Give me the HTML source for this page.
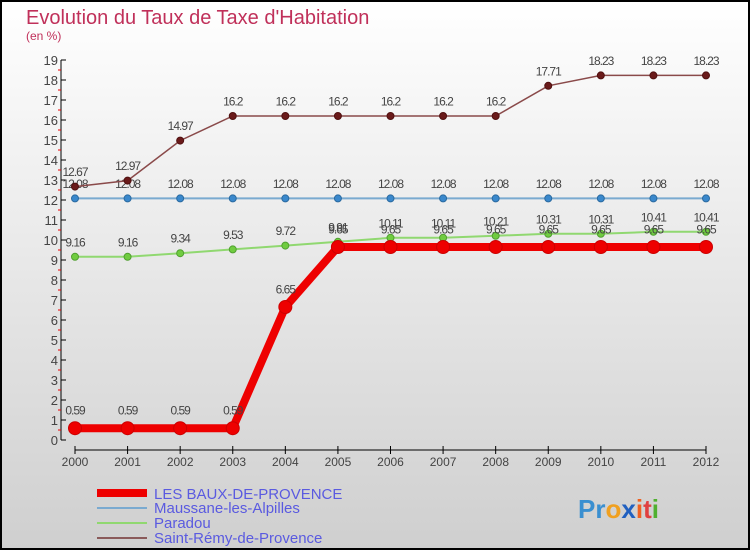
<!DOCTYPE html>
<html><head><meta charset="utf-8"><style>
body{margin:0}
#c{width:750px;height:550px;position:relative;overflow:hidden}
text{font-family:"Liberation Sans",sans-serif}
</style></head><body>
<div id="c">
<svg id="s" width="750" height="550" xmlns="http://www.w3.org/2000/svg">
<defs><linearGradient id="bg" x1="0" y1="0" x2="0" y2="1"><stop offset="0" stop-color="#ffffff"/><stop offset="1" stop-color="#cfcfcf"/></linearGradient></defs>
<rect x="1" y="1" width="748" height="548" fill="url(#bg)" stroke="#000" stroke-width="2"/>
<text x="26" y="24" font-size="20" fill="#c0305a">Evolution du Taux de Taxe d'Habitation</text>
<text x="26" y="40" font-size="12" fill="#c0305a">(en %)</text>
<g id="axes"></g><g id="series"></g>
<g>
<rect x="97" y="489" width="50" height="8" fill="#e00"/>
<text x="154" y="499" font-size="15" fill="#5a5ae0">LES BAUX-DE-PROVENCE</text>
<rect x="97" y="507" width="50" height="2" fill="#7aaad0"/>
<text x="154" y="513" font-size="15" fill="#5a5ae0">Maussane-les-Alpilles</text>
<rect x="97" y="522" width="50" height="2" fill="#90d870"/>
<text x="154" y="528" font-size="15" fill="#5a5ae0">Paradou</text>
<rect x="97" y="537" width="50" height="2" fill="#8a5a5a"/>
<text x="154" y="543" font-size="15" fill="#5a5ae0">Saint-Rémy-de-Provence</text>
</g>
<text x="578" y="518" font-size="26" font-weight="bold"><tspan fill="#3a8fd0">Pr</tspan><tspan fill="#f0a020">o</tspan><tspan fill="#2060c0">x</tspan><tspan fill="#f06020">i</tspan><tspan fill="#e04040">t</tspan><tspan fill="#50b030">i</tspan></text>
</svg></div>
<script>
const years=[2000,2001,2002,2003,2004,2005,2006,2007,2008,2009,2010,2011,2012];
const yTicks=[0,1,2,3,4,5,6,7,8,9,10,11,12,13,14,15,16,17,18,19];
const lesBaux=[0.59,0.59,0.59,0.59,6.65,9.65,9.65,9.65,9.65,9.65,9.65,9.65,9.65];
const maussane=[12.08,12.08,12.08,12.08,12.08,12.08,12.08,12.08,12.08,12.08,12.08,12.08,12.08];
const paradou=[9.16,9.16,9.34,9.53,9.72,9.91,10.11,10.11,10.21,10.31,10.31,10.41,10.41];
const saintRemy=[12.67,12.97,14.97,16.2,16.2,16.2,16.2,16.2,16.2,17.71,18.23,18.23,18.23];
const NS="http://www.w3.org/2000/svg";
const xS=i=>75+i*(706-75)/(years.length-1);
const yS=v=>440-v*20;
function mk(tag,attrs,parent){const e=document.createElementNS(NS,tag);for(const k in attrs)e.setAttribute(k,attrs[k]);parent.appendChild(e);return e;}
const ax=document.getElementById('axes');
const yl=mk('line',{x1:61,y1:yS(19),x2:61,y2:yS(0),stroke:'#000'},ax);


const xl=mk('line',{x1:75,y1:450,x2:706,y2:450,stroke:'#000'},ax);


yTicks.forEach(v=>{
 mk('line',{x1:61,y1:yS(v),x2:66,y2:yS(v),stroke:'#000'},ax);
 if(v<19)mk('line',{x1:58,y1:yS(v+0.5),x2:61,y2:yS(v+0.5),stroke:'#e00'},ax);
 const t=mk('text',{x:58,y:yS(v)+5,'font-size':13,fill:'#444','text-anchor':'end'},ax);
 t.textContent=v;
 
 
});
years.forEach((y,i)=>{
 mk('line',{x1:xS(i),y1:446,x2:xS(i),y2:454,stroke:'#000'},ax);
 const t=mk('text',{x:xS(i),y:466,'font-size':12,fill:'#444','text-anchor':'middle'},ax);
 t.textContent=y;
 
 
});
const sg=document.getElementById('series');
function series(vals,name,color,lw,r,dot,stroke){
 const g=mk('g',{},sg);
 
 
 const p=mk('polyline',{points:vals.map((v,i)=>xS(i)+','+yS(v)).join(' '),fill:'none',stroke:color,'stroke-width':lw},g);
 
 
 vals.forEach((v,i)=>{
  const c=mk('circle',{cx:xS(i),cy:yS(v),r:r,fill:dot,stroke:stroke,'stroke-width':1},g);
  
  
  const t=mk('text',{x:xS(i),y:yS(v)-(r+7),'font-size':12,fill:'#444','text-anchor':'middle','letter-spacing':'-1'},g);
  t.textContent=v;
  
  
 });
}
series(maussane,'maussane','#7aaad0',2,3.5,'#3a88cc','#2a6aa0');
series(paradou,'paradou','#90d870',2,3.5,'#70cc40','#50a030');
series(saintRemy,'saint-remy','#8a4a4a',1.5,3.5,'#6a1a1a','#501010');
series(lesBaux,'les-baux','#ee0000',8,6.5,'#ee0000','#cc0000');
</script>
</body></html>
